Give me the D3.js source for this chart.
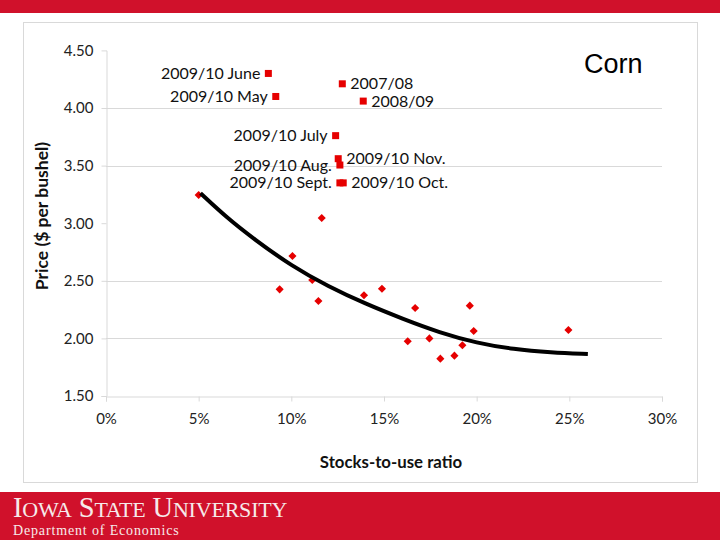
<!DOCTYPE html>
<html>
<head>
<meta charset="utf-8">
<script src="https://cdn.jsdelivr.net/npm/d3@7/dist/d3.min.js"></script>
<style>
html,body{margin:0;padding:0;background:#fff;}
svg{display:block;}
</style>
</head>
<body>
<svg id="chart" width="720" height="540"></svg>
<script>
// ---- data ----
const xTicks = [0, 5, 10, 15, 20, 25, 30];            // stocks-to-use %
const yTicks = [1.5, 2.0, 2.5, 3.0, 3.5, 4.0, 4.5];   // price
const gridValues = [2.0, 2.5, 3.5, 4.0];
const histX = [5.0, 9.37, 10.06, 11.13, 11.46, 11.64, 13.92, 14.89, 16.28, 16.68, 17.45, 18.04, 18.80, 19.23, 19.63, 19.84, 24.95];
const histY = [3.245, 2.426, 2.715, 2.507, 2.325, 3.045, 2.374, 2.431, 1.975, 2.264, 2.00, 1.824, 1.85, 1.94, 2.284, 2.064, 2.073];
const labelNames = ["2009/10 June", "2009/10 May", "2007/08", "2008/09", "2009/10 July", "2009/10 Nov.", "2009/10 Aug.", "2009/10 Sept.", "2009/10 Oct."];
const labelX = [8.76, 9.16, 12.75, 13.88, 12.39, 12.53, 12.62, 12.62, 12.80];
const labelY = [4.30, 4.10, 4.21, 4.06, 3.76, 3.56, 3.505, 3.35, 3.35];
const labelSide = ["left", "left", "right", "right", "left", "right", "left", "left", "right"];
const trendX = [5.1, 6.5, 8.0, 10.0, 12.0, 14.0, 16.0, 18.0, 20.0, 22.0, 24.0, 26.0];
const trendY = [3.26, 3.05, 2.86, 2.63, 2.45, 2.30, 2.17, 2.05, 1.96, 1.905, 1.878, 1.865];
const title = "Corn";
const xTitle = "Stocks-to-use ratio";
const yTitle = "Price ($ per bushel)";

// ---- drawing ----
const svg = d3.select("#chart");
const RED = "#d0112b";
const MARK = "#e60000";
const FONT = "Lato, 'Open Sans', sans-serif";
const SERIF = "'Liberation Serif', 'DejaVu Serif', serif";

// top band
svg.append("rect").attr("x", 0).attr("y", 0).attr("width", 720).attr("height", 13).attr("fill", RED);
// bottom band
svg.append("rect").attr("x", 0).attr("y", 492).attr("width", 720).attr("height", 48).attr("fill", RED);
const uni = svg.append("text").attr("x", 13).attr("y", 517)
  .attr("font-family", SERIF).attr("fill", "#f6eaea").attr("letter-spacing", -0.2);
["IOWA", "STATE", "UNIVERSITY"].forEach((w, i) => {
  uni.append("tspan").attr("font-size", 28.5).text((i ? " " : "") + w[0]);
  uni.append("tspan").attr("font-size", 22).text(w.slice(1));
});
svg.append("text").attr("x", 13).attr("y", 535)
  .attr("font-family", SERIF)
  .attr("font-size", 14).attr("fill", "#f6eaea").attr("letter-spacing", 0.85)
  .text("Department of Economics");

// chart frame
svg.append("rect").attr("x", 23.5).attr("y", 22.5).attr("width", 674).attr("height", 460)
  .attr("fill", "#fff").attr("stroke", "#d9d9d9").attr("stroke-width", 1);

const x = d3.scaleLinear().domain([0, 30]).range([106, 662]);
const y = d3.scaleLinear().domain([1.5, 4.5]).range([396, 50.4]);

// gridlines
svg.append("g").selectAll("line").data(gridValues).join("line")
  .attr("x1", x(0)).attr("x2", x(30))
  .attr("y1", d => Math.round(y(d)) + 0.5).attr("y2", d => Math.round(y(d)) + 0.5)
  .attr("stroke", "#d9d9d9").attr("stroke-width", 1);

// x axis
const xAxis = svg.append("g").attr("transform", `translate(0,${Math.round(y(1.5)) + 0.5})`)
  .call(d3.axisBottom(x).tickValues(xTicks).tickFormat(d => d + "%").tickSize(5).tickPadding(12));
// y axis
const yAxis = svg.append("g").attr("transform", `translate(${Math.round(x(0)) + 0.5},0)`)
  .call(d3.axisLeft(y).tickValues(yTicks).tickFormat(d3.format(".2f")).tickSize(5).tickPadding(8));
[xAxis, yAxis].forEach(g => {
  g.select(".domain").attr("stroke", "#d9d9d9");
  g.selectAll(".tick line").attr("stroke", "#d9d9d9");
  g.selectAll(".tick text").attr("font-family", FONT).attr("font-size", 15).attr("fill", "#222");
});
yAxis.selectAll(".tick line").filter(d => d === 4.5).remove();

// axis titles
svg.append("text").attr("x", 391).attr("y", 468).attr("text-anchor", "middle")
  .attr("font-family", FONT).attr("font-size", 16.8).attr("font-weight", "bold").attr("fill", "#111")
  .text(xTitle);
svg.append("text").attr("transform", "translate(48,216) rotate(-90)").attr("text-anchor", "middle")
  .attr("font-family", FONT).attr("font-size", 17.5).attr("font-weight", "bold").attr("fill", "#111")
  .text(yTitle);

// title
svg.append("text").attr("x", 584).attr("y", 73)
  .attr("font-family", "'Liberation Sans', Arial, sans-serif").attr("font-size", 27).attr("fill", "#000")
  .text(title);

// historical diamonds
const hist = histX.map((v, i) => ({x: v, y: histY[i]}));
svg.append("g").selectAll("path").data(hist).join("path")
  .attr("d", d3.symbol(d3.symbolDiamond2, 42))
  .attr("transform", d => `translate(${x(d.x)},${y(d.y)})`)
  .attr("fill", MARK);

// trend line
const trend = trendX.map((v, i) => [v, trendY[i]]);
svg.append("path").datum(trend)
  .attr("d", d3.line().x(d => x(d[0])).y(d => y(d[1])).curve(d3.curveBasis))
  .attr("fill", "none").attr("stroke", "#000").attr("stroke-width", 4).attr("stroke-linecap", "butt");

// labelled squares
const lab = labelNames.map((n, i) => ({name: n, x: labelX[i], y: labelY[i], side: labelSide[i]}));
svg.append("g").selectAll("rect").data(lab).join("rect")
  .attr("x", d => x(d.x) - 3.5).attr("y", d => y(d.y) - 3.5)
  .attr("width", 7).attr("height", 7).attr("fill", MARK);
svg.append("g").selectAll("text").data(lab).join("text")
  .attr("x", d => d.side === "left" ? x(d.x) - 8 : x(d.x) + 8)
  .attr("y", d => y(d.y) + 5.5)
  .attr("text-anchor", d => d.side === "left" ? "end" : "start")
  .attr("font-family", FONT).attr("font-size", 16).attr("fill", "#111")
  .text(d => d.name);
</script>
</body>
</html>
